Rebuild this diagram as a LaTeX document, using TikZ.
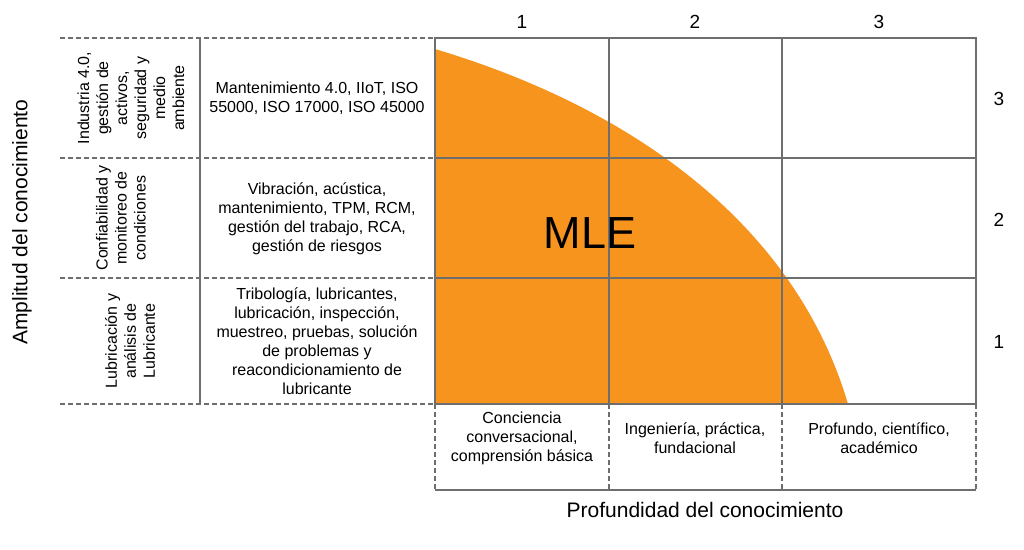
\documentclass[tikz,border=0pt]{standalone}
\usepackage{fontspec}
\setmainfont{Liberation Sans}
\definecolor{gridgray}{HTML}{6E6E6E}
\definecolor{mleorange}{HTML}{F7941D}
\tikzset{
  gridline/.style={draw=gridgray, line width=1.8pt},
  dashline/.style={draw=gridgray, line width=1.5pt, dash pattern=on 4.5pt off 3.5pt},
  txt/.style={align=center, inner sep=0pt, font=\fontsize{16}{19}\selectfont},
  num/.style={inner sep=0pt, font=\fontsize{19}{22}\selectfont},
  axislabel/.style={inner sep=0pt, font=\fontsize{21}{24}\selectfont},
}
\begin{document}
\begin{tikzpicture}[x=1pt, y=-1pt]
\useasboundingbox (0,0) rectangle (1024,549);
% orange region
\fill[mleorange] (435,49) .. controls (642,111) and (797,231) .. (848,404) -- (435,404) -- cycle;
% main grid
\draw[gridline] (435,38) rectangle (976,404);
\draw[gridline] (609,38) -- (609,404);
\draw[gridline] (782,38) -- (782,404);
\draw[gridline] (435,158) -- (976,158);
\draw[gridline] (435,278) -- (976,278);
% left table
\foreach \yy in {38,158,278,404} \draw[dashline] (60,\yy) -- (435,\yy);
\draw[gridline] (200,38) -- (200,404);
% bottom table
\foreach \xx in {435,609,782,976} \draw[dashline] (\xx,404) -- (\xx,490);
\draw[gridline] (435,490) -- (976,490);
% MLE
\node[inner sep=0pt, font=\fontsize{45}{50}\selectfont] (mle) at (590,233) {MLE};
% column numbers
\node[num] (c1) at (522,22) {1};
\node[num] (c2) at (695,22) {2};
\node[num] (c3) at (879,22) {3};
% row numbers
\node[num] (r3) at (999,99) {3};
\node[num] (r2) at (999,220) {2};
\node[num] (r1) at (999,342) {1};
% rotated category labels
\node[txt, rotate=90] (cat3) at (131,98) {Industria 4.0,\\gestión de\\activos,\\seguridad y\\medio\\ambiente};
\node[txt, rotate=90] (cat2) at (121,218) {Confiabilidad y\\monitoreo de\\condiciones};
\node[txt, rotate=90] (cat1) at (130,341) {Lubricación y\\análisis de\\Lubricante};
% topic texts
\node[txt] (top3) at (317,98) {Mantenimiento 4.0, IIoT, ISO\\55000, ISO 17000, ISO 45000};
\node[txt] (top2) at (317,219) {Vibración, acústica,\\mantenimiento, TPM, RCM,\\gestión del trabajo, RCA,\\gestión de riesgos};
\node[txt] (top1) at (317,341) {Tribología, lubricantes,\\lubricación, inspección,\\muestreo, pruebas, solución\\de problemas y\\reacondicionamiento de\\lubricante};
% depth texts
\node[txt] (d1) at (522,438) {Conciencia\\conversacional,\\comprensión básica};
\node[txt] (d2) at (695,438) {Ingeniería, práctica,\\fundacional};
\node[txt] (d3) at (879,438) {Profundo, científico,\\académico};
% axis labels
\node[axislabel] (xlab) at (705,510) {Profundidad del conocimiento};
\node[axislabel, rotate=90] (ylab) at (22,222) {Amplitud del conocimiento};
\end{tikzpicture}
\end{document}
